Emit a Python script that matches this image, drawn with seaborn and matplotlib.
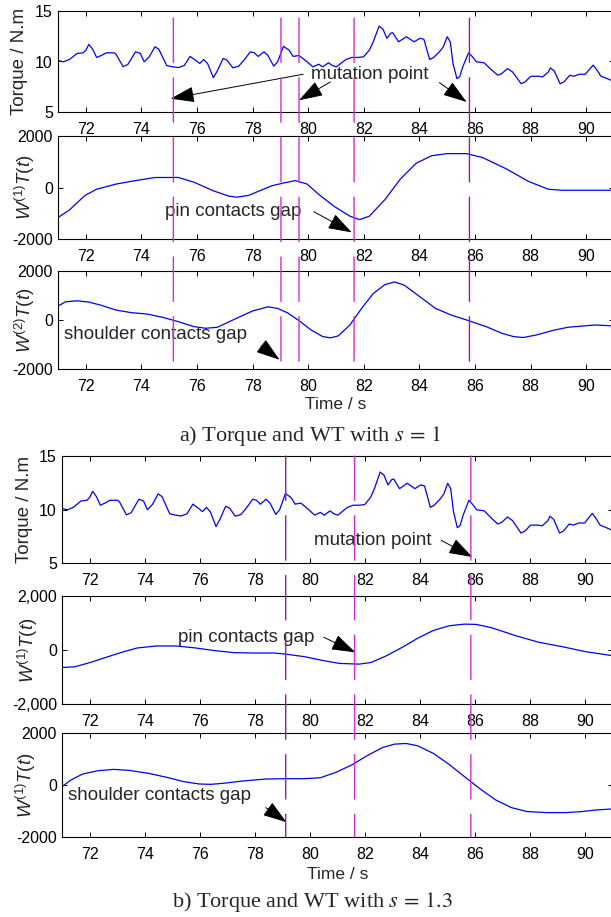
import matplotlib
matplotlib.use("Agg")
import matplotlib.pyplot as plt
import seaborn as sns
from matplotlib.patches import ConnectionPatch

# ---------------- data ----------------
# measured torque signal (same record used in both parts)
torque_t = [71.0, 71.20, 71.41, 71.69, 71.90, 72.00, 72.11, 72.25, 72.39, 72.56, 72.74, 73.02, 73.09,
            73.34, 73.51, 73.79, 73.96, 74.10, 74.28, 74.49, 74.63, 74.91, 75.12, 75.33, 75.54, 75.75,
            75.96, 76.10, 76.24, 76.38, 76.59, 76.73, 76.94, 77.08, 77.29, 77.50, 77.71, 77.92, 78.06,
            78.20, 78.41, 78.55, 78.76, 78.90, 79.11, 79.32, 79.46, 79.67, 79.96, 80.17, 80.38, 80.52,
            80.73, 80.87, 81.01, 81.36, 81.57, 81.78, 81.99, 82.20, 82.34, 82.55, 82.69, 82.83, 82.97,
            83.04, 83.25, 83.39, 83.53, 83.67, 83.81, 84.02, 84.16, 84.37, 84.51, 84.72, 84.86, 85.00,
            85.11, 85.21, 85.35, 85.45, 85.56, 85.77, 85.91, 86.05, 86.33, 86.54, 86.82, 86.96, 87.17,
            87.35, 87.66, 87.80, 88.01, 88.29, 88.43, 88.64, 88.71, 88.85, 89.06, 89.20, 89.41, 89.55,
            89.76, 89.97, 90.11, 90.25, 90.39, 90.53, 90.85, 91.0]
torque_v = [10.1, 9.97, 10.2, 10.8, 10.86, 11.1, 11.7, 11.2, 10.4, 10.6, 10.86, 10.86, 10.7,
            9.5, 9.7, 10.96, 10.8, 9.97, 10.46, 11.46, 11.2, 9.6, 9.47, 9.4, 9.6, 10.5,
            10.1, 9.8, 10.2, 9.8, 8.4, 9.07, 10.3, 10.13, 9.37, 9.54, 10.2, 10.96, 10.86,
            10.5, 10.96, 10.6, 9.54, 9.97, 11.5, 11.1, 10.5, 10.6, 9.97, 9.47, 9.73, 9.47,
            9.87, 9.6, 9.47, 10.2, 10.4, 10.4, 10.46, 11.13, 11.95, 13.5, 13.2, 12.3, 12.8,
            12.85, 11.95, 12.2, 12.45, 12.2, 11.95, 12.3, 12.2, 10.2, 10.4, 10.96, 11.46, 12.45,
            11.95, 9.8, 8.3, 8.5, 9.47, 10.86, 10.46, 9.97, 9.87, 9.3, 8.64, 8.8, 9.3,
            8.97, 7.8, 7.98, 8.54, 8.54, 8.47, 8.97, 9.37, 9.07, 7.8, 7.98, 8.64, 8.54,
            8.74, 8.74, 9.2, 9.64, 9.14, 8.54, 8.2, 8.0]

# wavelet transform, s = 1, first derivative
wt1_s1_t = [71.0, 71.41, 71.97, 72.39, 73.09, 73.79, 74.49, 75.33, 75.90, 76.60, 77.15, 77.43, 77.85,
            78.69, 79.11, 79.53, 79.96, 80.38, 80.94, 81.50, 81.85, 82.20, 82.76, 83.32, 83.88, 84.44,
            85.00, 85.70, 86.26, 87.10, 87.94, 88.64, 89.13, 89.90, 91.0]
wt1_s1_v = [-1168, -872, -309, -67, 134, 268, 389, 389, 201, -134, -336, -376, -309,
            67, 174, 268, 134, -268, -738, -1114, -1248, -1114, -470, 335, 939, 1235,
            1315, 1315, 1168, 738, 228, -67, -107, -107, -107]

# wavelet transform, s = 1, second derivative
wt2_s1_t = [71.0, 71.27, 71.69, 72.11, 72.53, 73.09, 73.65, 74.21, 74.77, 75.33, 75.89, 76.31, 76.73,
            77.29, 77.99, 78.55, 78.90, 79.25, 79.67, 80.10, 80.52, 80.80, 81.08, 81.50, 81.92, 82.34,
            82.76, 83.10, 83.46, 84.02, 84.58, 85.14, 85.70, 86.40, 86.96, 87.38, 87.73, 88.22, 88.78,
            89.34, 89.90, 90.32, 91.0]
wt2_s1_v = [567, 743, 784, 730, 608, 405, 297, 243, 108, -68, -270, -338, -297,
            0, 365, 540, 473, 297, -27, -405, -675, -730, -648, -203, 473, 1081,
            1445, 1554, 1419, 946, 473, 203, 0, -270, -540, -675, -716, -608, -432,
            -297, -243, -203, -243]

# wavelet transform, s = 1.3, first derivative (middle panel)
wt1_s13_t = [71.0, 71.46, 72.03, 72.59, 73.16, 73.73, 74.43, 75.14, 75.85, 76.56, 77.26, 77.97, 78.68,
             79.10, 79.81, 80.52, 81.08, 81.79, 82.22, 82.78, 83.35, 83.91, 84.48, 85.05, 85.61, 86.04,
             86.60, 87.45, 88.30, 89.15, 90.00, 91.0]
wt1_s13_v = [-648, -623, -461, -274, -87, 75, 150, 150, 75, -25, -100, -112, -112,
             -150, -249, -399, -498, -523, -461, -212, 100, 436, 723, 897, 959, 947,
             822, 536, 287, 125, -62, -212]

# wavelet transform, s = 1.3, first derivative (bottom panel)
wt1b_s13_t = [71.0, 71.32, 71.75, 72.31, 72.88, 73.44, 74.15, 74.86, 75.42, 75.99, 76.41, 76.84, 77.55,
              78.40, 79.10, 79.81, 80.38, 80.94, 81.51, 82.07, 82.64, 83.07, 83.49, 83.91, 84.48, 85.05,
              85.61, 86.18, 86.74, 87.31, 87.88, 88.58, 89.29, 89.86, 90.42, 91.0]
wt1b_s13_v = [-64, 192, 422, 550, 601, 562, 447, 281, 128, 38, 26, 64, 153,
              230, 243, 243, 281, 486, 767, 1125, 1444, 1572, 1598, 1508, 1214, 792,
              320, -153, -575, -869, -1022, -1061, -1061, -1022, -958, -920]

# instants of interest (s)
events_s1 = [75.15, 79.02, 79.67, 81.65, 85.80]
events_s13 = [79.12, 81.62, 85.84]

x_ticks = [72, 74, 76, 78, 80, 82, 84, 86, 88, 90]
torque_ticks = [5, 10, 15]
wt_ticks = [-2000, 0, 2000]
wt_labels_plain = ["-2000", "0", "2000"]
wt_labels_comma = ["-2,000", "0", "2,000"]

# ---------------- style ----------------
sns.set_theme(style="ticks")
plt.rcParams.update({
    "font.family": ["Liberation Sans", "DejaVu Sans"],
    "mathtext.fontset": "custom",
    "mathtext.rm": "Liberation Sans",
    "mathtext.it": "Liberation Sans:italic",
    "mathtext.bf": "Liberation Sans:bold",
    "axes.linewidth": 0.8,
    "axes.edgecolor": "black",
    "xtick.direction": "in",
    "ytick.direction": "in",
    "xtick.top": True,
    "ytick.right": True,
    "xtick.major.size": 3.5,
    "ytick.major.size": 3.5,
    "xtick.major.width": 0.7,
    "ytick.major.width": 0.7,
    "xtick.major.pad": 7,
    "ytick.major.pad": 3.6,
    "xtick.labelsize": 11.5,
    "ytick.labelsize": 11.5,
    "xtick.color": "black",
    "ytick.color": "black",
})

W, H = 611, 917
fig = plt.figure(figsize=(W / 100, H / 100), dpi=100)


def add_ax(left, right, top, bottom):
    return fig.add_axes([left / W, 1 - bottom / H, (right - left) / W, (bottom - top) / H])


BLUE = "#0000ff"
MAG = "#d62ad6"
DARK = "#9a1aa8"
ARROW = dict(arrowstyle="-|>,head_length=1.5,head_width=0.5", color="black",
             lw=0.7, shrinkA=0, shrinkB=0, mutation_scale=10)


def draw_series(ax, t, v, ylim, yticks, ylabels, ylabel, label_x):
    sns.lineplot(x=t, y=v, ax=ax, color=BLUE, linewidth=0.9, sort=False, estimator=None)
    ax.set_xlim(71, 91)
    ax.set_ylim(*ylim)
    ax.set_xticks(x_ticks)
    ax.set_yticks(yticks, labels=ylabels)
    ax.set_ylabel(ylabel, fontsize=13.5)
    ax.yaxis.set_label_coords(label_x, 0.5)
    ax.set_xlabel("")
    for s in ax.spines.values():
        s.set_visible(True)


def note(ax, text, pos, tail, head):
    ax.text(pos[0], pos[1], text, fontsize=13.5, ha="left", va="center", zorder=5)
    ax.annotate("", xy=head, xytext=tail, arrowprops=ARROW, zorder=5)


W1 = r"$W^{\mathit{(1)}}T(t)$"
W2 = r"$W^{\mathit{(2)}}T(t)$"

# ---- part a) s = 1 ----
a1 = add_ax(58, 614, 11, 112)
a2 = add_ax(58, 614, 136, 239)
a3 = add_ax(58, 614, 271, 369)
draw_series(a1, torque_t, torque_v, (5, 15), torque_ticks, ["5", "10", "15"], "Torque / N.m", -0.054)
draw_series(a2, wt1_s1_t, wt1_s1_v, (-2000, 2000), wt_ticks, wt_labels_plain, W1, -0.038)
draw_series(a3, wt2_s1_t, wt2_s1_v, (-2000, 2000), wt_ticks, wt_labels_plain, W2, -0.038)
a3.set_xlabel("Time / s", fontsize=12.5)
a3.xaxis.set_label_coords(0.5, -0.29)

note(a1, "mutation point", (80.1, 8.74), (80.8, 7.98), (79.67, 6.16))
a1.annotate("", xy=(75.05, 6.32), xytext=(79.82, 8.74), arrowprops=ARROW)
a1.annotate("", xy=(85.7, 5.99), xytext=(84.72, 7.91), arrowprops=ARROW)
note(a2, "pin contacts gap", (74.84, -939), (80.2, -939), (81.57, -1745))
note(a3, "shoulder contacts gap", (71.2, -608), (78.3, -1054), (78.97, -1621))

for x in events_s1:
    col = DARK if x == events_s1[-1] else MAG
    con = ConnectionPatch(xyA=(x, 14.3), coordsA=a1.transData,
                          xyB=(x, -2000), coordsB=a3.transData,
                          color=col, lw=1.0, linestyle=(0, (32, 11)))
    fig.add_artist(con)

fig.text(310 / W, 1 - 436 / H, r"a) Torque and WT with $s\,=\,1$", ha="center", va="center",
         fontsize=16, family="Liberation Serif", math_fontfamily="stix")

# ---- part b) s = 1.3 ----
b1 = add_ax(62, 613, 456, 563)
b2 = add_ax(62, 613, 596, 704)
b3 = add_ax(62, 613, 733, 837)
draw_series(b1, torque_t, torque_v, (5, 15), torque_ticks, ["5", "10", "15"], "Torque / N.m", -0.053)
draw_series(b2, wt1_s13_t, wt1_s13_v, (-2000, 2000), wt_ticks, wt_labels_comma, W1, -0.040)
draw_series(b3, wt1b_s13_t, wt1b_s13_v, (-2000, 2000), wt_ticks, wt_labels_plain, W1, -0.044)
b3.set_xlabel("Time / s", fontsize=12.5)
b3.xaxis.set_label_coords(0.5, -0.29)

note(b1, "mutation point", (80.16, 7.12), (84.76, 7.12), (85.9, 5.56))
note(b2, "pin contacts gap", (75.2, 473), (80.5, 473), (81.65, -87))
note(b3, "shoulder contacts gap", (71.2, -422), (78.4, -869), (79.15, -1431))

for x in events_s13:
    col = DARK if x == events_s13[0] else MAG
    con = ConnectionPatch(xyA=(x, 15), coordsA=b1.transData,
                          xyB=(x, -2000), coordsB=b3.transData,
                          color=col, lw=1.0, linestyle=(0, (32, 11)))
    fig.add_artist(con)

fig.text(312 / W, 1 - 902 / H, r"b) Torque and WT with $s\,=\,1.3$", ha="center", va="center",
         fontsize=16, family="Liberation Serif", math_fontfamily="stix")

fig.savefig("out.png", dpi=100, facecolor="white")
